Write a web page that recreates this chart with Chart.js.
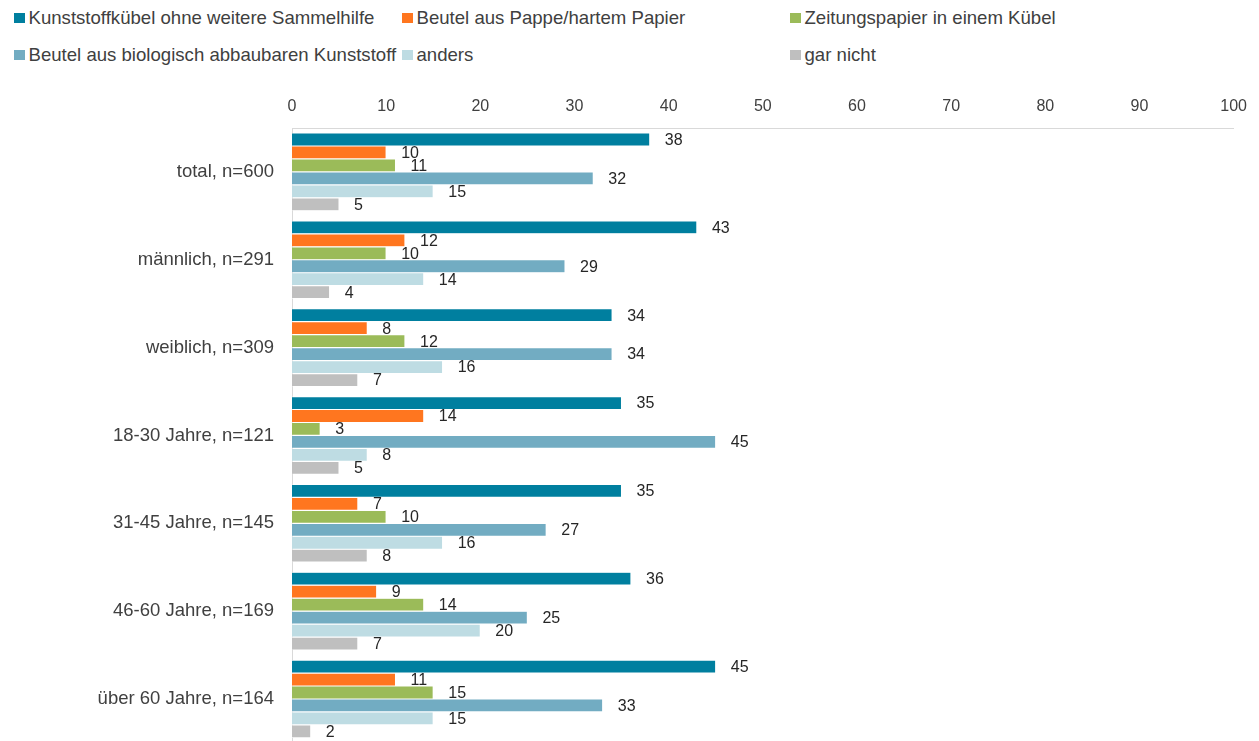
<!DOCTYPE html>
<html>
<head>
<meta charset="utf-8">
<script src="https://cdn.jsdelivr.net/npm/chart.js@4"></script>
<style>
  html, body { margin: 0; padding: 0; background: #fff; overflow: hidden; }
  body { width: 1259px; height: 741px; position: relative; font-family: "Liberation Sans", Arial, sans-serif; }
  #wrap { position: absolute; left: 0; top: 0; width: 1259px; height: 772px; }
  .leg { position: absolute; font-size: 18.6px; color: #404040; white-space: nowrap; line-height: 20px; }
  .leg i { display: inline-block; width: 10.5px; height: 10.5px; margin-right: 4px; vertical-align: 1px; }
</style>
</head>
<body>
<div id="legend"></div>
<div id="wrap"><canvas id="chart"></canvas></div>
<script>
// categories and series
const categories = ['total, n=600', 'männlich, n=291', 'weiblich, n=309', '18-30 Jahre, n=121',
  '31-45 Jahre, n=145', '46-60 Jahre, n=169', 'über 60 Jahre, n=164'];
const seriesNames = ['Kunststoffkübel ohne weitere Sammelhilfe', 'Beutel aus Pappe/hartem Papier',
  'Zeitungspapier in einem Kübel', 'Beutel aus biologisch abbaubaren Kunststoff', 'anders', 'gar nicht'];
const kunststoffkuebel = [38, 43, 34, 35, 35, 36, 45];
const beutelPappe = [10, 12, 8, 14, 7, 9, 11];
const zeitungspapier = [11, 10, 12, 3, 10, 14, 15];
const beutelBio = [32, 29, 34, 45, 27, 25, 33];
const anders = [15, 14, 16, 8, 16, 20, 15];
const garNicht = [5, 4, 7, 5, 8, 7, 2];
const xTicks = [0, 10, 20, 30, 40, 50, 60, 70, 80, 90, 100];

const colors = ['#007F9F', '#FF761F', '#9BBB59', '#72ACC2', '#BEDCE3', '#BFBFBF'];
const values = [kunststoffkuebel, beutelPappe, zeitungspapier, beutelBio, anders, garNicht];

// legend in 3 columns, 2 rows
const legendPos = [[14, 8], [402, 8], [790, 8], [14, 45], [402, 45], [790, 45]];
const legendEl = document.getElementById('legend');
seriesNames.forEach((name, i) => {
  const d = document.createElement('div');
  d.className = 'leg';
  d.style.left = legendPos[i][0] + 'px';
  d.style.top = legendPos[i][1] + 'px';
  d.innerHTML = '<i style="background:' + colors[i] + '"></i>' + name;
  legendEl.appendChild(d);
});

const labelPlugin = {
  id: 'barLabels',
  afterDatasetsDraw(chart) {
    const ctx = chart.ctx;
    ctx.save();
    ctx.font = '16px "Liberation Sans", Arial, sans-serif';
    ctx.fillStyle = '#262626';
    ctx.textAlign = 'left';
    ctx.textBaseline = 'middle';
    chart.data.datasets.forEach((ds, di) => {
      chart.getDatasetMeta(di).data.forEach((bar, i) => {
        ctx.fillText(String(ds.data[i]), bar.x + 15, bar.y + 1);
      });
    });
    ctx.restore();
  }
};

new Chart(document.getElementById('chart'), {
  type: 'bar',
  data: {
    labels: categories,
    datasets: values.map((v, i) => ({
      label: seriesNames[i],
      data: v,
      backgroundColor: colors[i],
      borderColor: '#ffffff',
      borderWidth: 0.6,
      categoryPercentage: 0.886,
      barPercentage: 1
    }))
  },
  options: {
    indexAxis: 'y',
    responsive: true,
    maintainAspectRatio: false,
    animation: false,
    layout: { padding: { top: 95, right: 23, left: 0, bottom: 0 } },
    plugins: { legend: { display: false }, tooltip: { enabled: false } },
    scales: {
      x: {
        position: 'top',
        min: 0, max: 100,
        afterBuildTicks: s => { s.ticks = xTicks.map(v => ({ value: v })); },
        afterFit: s => { s.height = 33; },
        grid: { display: false, drawTicks: false },
        border: { display: true, color: '#D9D9D9', width: 1 },
        ticks: { color: '#404040', padding: 12, maxRotation: 0,
          font: { family: '"Liberation Sans", Arial, sans-serif', size: 16 } }
      },
      y: {
        afterFit: s => { s.width = 292; },
        grid: { display: false, drawTicks: false },
        border: { display: true, color: '#D9D9D9', width: 1 },
        ticks: { color: '#404040', padding: 18,
          font: { family: '"Liberation Sans", Arial, sans-serif', size: 18.5 } }
      }
    }
  },
  plugins: [labelPlugin]
});
</script>
</body>
</html>
